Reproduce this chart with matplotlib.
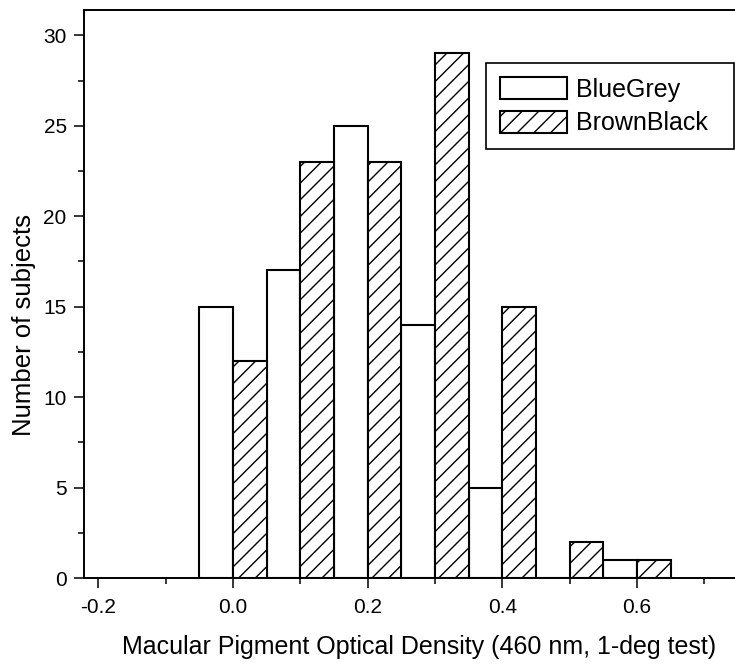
import matplotlib
matplotlib.use("Agg")
import matplotlib.pyplot as plt
import numpy as np

plt.rcParams['font.family'] = ['Liberation Sans', 'DejaVu Sans']
plt.rcParams['hatch.linewidth'] = 1.0

# Data
bin_width = 0.05
bluegrey_x = [-0.025, 0.075, 0.175, 0.275, 0.375, 0.475, 0.575]
bluegrey_n = [15, 17, 25, 14, 5, 0, 1]
brownblack_x = [0.025, 0.125, 0.225, 0.325, 0.425, 0.525, 0.625]
brownblack_n = [12, 23, 23, 29, 15, 2, 1]
series_labels = ["BlueGrey", "BrownBlack"]
xlabel = "Macular Pigment Optical Density (460 nm, 1-deg test)"
ylabel = "Number of subjects"
xticks = [-0.2, 0.0, 0.2, 0.4, 0.6]
xticklabels = ["-0.2", "0.0", "0.2", "0.4", "0.6"]
yticks = [0, 5, 10, 15, 20, 25, 30]

W, H = 735, 668
fig = plt.figure(figsize=(W / 100, H / 100), dpi=100)
left_px, right_px, top_px, bottom_px = 84, 755, 10, 578
ax = fig.add_axes([left_px / W, 1 - bottom_px / H,
                   (right_px - left_px) / W, (bottom_px - top_px) / H])

b1 = ax.bar(bluegrey_x, bluegrey_n, width=bin_width, facecolor='white',
            edgecolor='black', linewidth=1.5, label=series_labels[0])
b2 = ax.bar(brownblack_x, brownblack_n, width=bin_width, facecolor='white',
            edgecolor='black', linewidth=1.5, hatch='//', label=series_labels[1])

ax.set_xlim(-0.221, 0.775)
ax.set_ylim(0, 31.4)

ax.set_xticks(xticks)
ax.set_xticklabels(xticklabels)
ax.set_xticks(np.arange(-0.1, 0.75, 0.2), minor=True)
ax.set_yticks(yticks)
ax.set_yticks(np.arange(2.5, 31, 5), minor=True)

ax.tick_params(axis='both', which='major', direction='out', length=7.5, width=1.1,
               labelsize=15, color='black')
ax.tick_params(axis='both', which='minor', direction='out', length=4.5, width=1.1,
               color='black')
ax.tick_params(axis='x', which='major', pad=7)
ax.tick_params(axis='y', which='major', pad=5)

for s in ['left', 'bottom', 'top']:
    ax.spines[s].set_linewidth(1.4)
ax.spines['right'].set_visible(False)

ax.set_xlabel(xlabel, fontsize=18)
ax.set_ylabel(ylabel, fontsize=18.5)
ax.xaxis.set_label_coords(0.5, -0.10)
ax.yaxis.set_label_coords(-0.09, 0.445)
ax.yaxis.label.set_va('center')
ax.xaxis.label.set_va('top')

leg = ax.legend(handles=[b1, b2], labels=series_labels, loc='upper left',
                bbox_to_anchor=(486 / W, 1 - 149 / H, (734 - 486) / W, 86 / H),
                bbox_transform=fig.transFigure, mode='expand', borderaxespad=0,
                fontsize=18, handlelength=2.7, handleheight=1.0,
                labelspacing=0.36, handletextpad=0.33, borderpad=0.55,
                fancybox=False, framealpha=1, edgecolor='black')
leg.get_frame().set_linewidth(1.2)

fig.savefig("out.png", dpi=100)
